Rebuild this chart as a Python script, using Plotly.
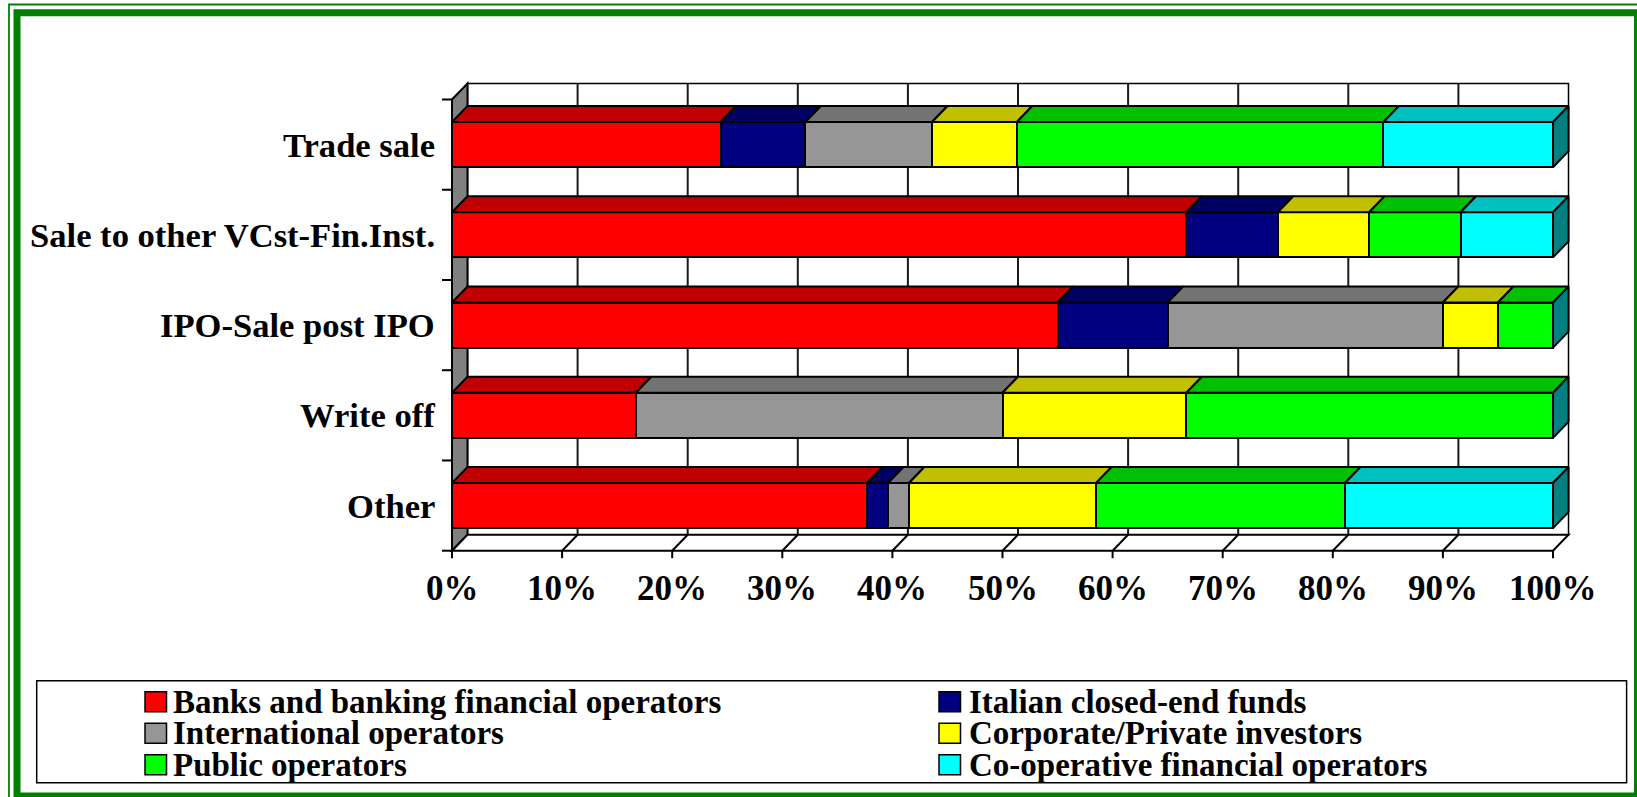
import plotly.graph_objects as go

# ---------------- data ----------------
categories = ["Trade sale", "Sale to other VCst-Fin.Inst.", "IPO-Sale post IPO", "Write off", "Other"]
series_names = ["Banks and banking financial operators", "Italian closed-end funds",
                "International operators", "Corporate/Private investors",
                "Public operators", "Co-operative financial operators"]
banks = [24.4, 66.7, 55.0, 16.7, 37.7]
italian_funds = [7.7, 8.3, 10.0, 0.0, 1.9]
international = [11.5, 0.0, 25.0, 33.3, 1.9]
corporate = [7.7, 8.3, 5.0, 16.7, 17.0]
public = [33.3, 8.3, 5.0, 33.3, 22.6]
cooperative = [15.4, 8.4, 0.0, 0.0, 18.9]
x_ticks = [0, 10, 20, 30, 40, 50, 60, 70, 80, 90, 100]
x_tick_labels = ["0%", "10%", "20%", "30%", "40%", "50%", "60%", "70%", "80%", "90%", "100%"]

series_values = [banks, italian_funds, international, corporate, public, cooperative]

# ---------------- styles ----------------
front_colors = ["#FF0000", "#000080", "#969696", "#FFFF00", "#00FF00", "#00FFFF"]
top_colors = ["#C00000", "#000060", "#737373", "#C0C000", "#00C000", "#00C0C0"]
side_color = "#008080"
frame_green = "#008000"
FONT = "Liberation Serif"

W, H = 1637, 797
X0_PX = 452.0          # pixel of 0% on the front plane
PX_PER_PCT = 11.01
Y0_PX = 550.7          # pixel of the floor front edge
PX_PER_CAT = 90.24
DX = 15.5 / PX_PER_PCT  # depth offset in x units
DY = 16.0 / PX_PER_CAT  # depth offset in y units
BAR_HALF = 0.25
N = len(categories)
ypos = [N - 0.5 - i for i in range(N)]

x_range = [-X0_PX / PX_PER_PCT, (W - X0_PX) / PX_PER_PCT]
y_range = [-(H - Y0_PX) / PX_PER_CAT, Y0_PX / PX_PER_CAT]


def px(xp):
    return xp / W


def py(yp):
    return 1 - yp / H


fig = go.Figure()

# front faces (stacked bars)
for name, vals, col in zip(series_names, series_values, front_colors):
    fig.add_trace(go.Bar(
        orientation="h", x=vals, y=ypos, width=2 * BAR_HALF, name=name,
        marker=dict(color=col, line=dict(color="black", width=2)),
        showlegend=False, hoverinfo="skip"))

# top faces
bases = [0.0] * N
for name, vals, col in zip(series_names, series_values, top_colors):
    xs, ys = [], []
    for r in range(N):
        b, v = bases[r], vals[r]
        if v > 0:
            yt = ypos[r] + BAR_HALF
            xs += [b, b + v, b + v + DX, b + DX, b, None]
            ys += [yt, yt, yt + DY, yt + DY, yt, None]
        bases[r] += v
    fig.add_trace(go.Scatter(x=xs, y=ys, mode="lines", fill="toself", fillcolor=col,
                             line=dict(color="black", width=2), showlegend=False,
                             hoverinfo="skip"))

# right end faces
xs, ys = [], []
for r in range(N):
    e = bases[r]
    y0, y1 = ypos[r] - BAR_HALF, ypos[r] + BAR_HALF
    xs += [e, e, e + DX, e + DX, e, None]
    ys += [y0, y1, y1 + DY, y0 + DY, y0, None]
fig.add_trace(go.Scatter(x=xs, y=ys, mode="lines", fill="toself", fillcolor=side_color,
                         line=dict(color="black", width=2), showlegend=False, hoverinfo="skip"))

shapes = []
# back wall
shapes.append(dict(type="rect", xref="x", yref="y", x0=DX, x1=100 + DX, y0=DY, y1=N + DY,
                   fillcolor="white", line=dict(color="black", width=1.5), layer="below"))
for t in x_ticks[1:-1]:
    shapes.append(dict(type="line", xref="x", yref="y", x0=t + DX, x1=t + DX, y0=DY, y1=N + DY,
                       line=dict(color="#1a1a1a", width=2), layer="below"))
# left wall
shapes.append(dict(type="path", xref="x", yref="y",
                   path=f"M 0,0 L {DX},{DY} L {DX},{N + DY} L 0,{N} Z",
                   fillcolor="#808080", line=dict(color="black", width=2), layer="below"))
# floor
shapes.append(dict(type="path", xref="x", yref="y",
                   path=f"M 0,0 L 100,0 L {100 + DX},{DY} L {DX},{DY} Z",
                   fillcolor="white", line=dict(color="black", width=2), layer="below"))
for t in x_ticks[1:-1]:
    shapes.append(dict(type="line", xref="x", yref="y", x0=t, x1=t + DX, y0=0, y1=DY,
                       line=dict(color="black", width=2), layer="below"))
# x ticks below the floor
tick_dy = 7.5 / PX_PER_CAT
for t in x_ticks:
    shapes.append(dict(type="line", xref="x", yref="y", x0=t, x1=t, y0=0, y1=-tick_dy,
                       line=dict(color="black", width=2)))
# category ticks on the left
tick_dx = 10.0 / PX_PER_PCT
for k in range(N + 1):
    shapes.append(dict(type="line", xref="x", yref="y", x0=-tick_dx, x1=0, y0=k, y1=k,
                       line=dict(color="black", width=2)))

# frame
shapes.append(dict(type="rect", xref="paper", yref="paper", x0=px(9), x1=px(1650), y0=py(820), y1=py(4.5),
                   line=dict(color=frame_green, width=1.8), fillcolor="rgba(0,0,0,0)"))
shapes.append(dict(type="rect", xref="paper", yref="paper", x0=px(17), x1=px(1637.5), y0=py(796), y1=py(12.8),
                   line=dict(color=frame_green, width=7), fillcolor="rgba(0,0,0,0)"))

# legend box
shapes.append(dict(type="rect", xref="paper", yref="paper", x0=px(36.7), x1=px(1626.6),
                   y0=py(782.7), y1=py(680.7), line=dict(color="black", width=1.5),
                   fillcolor="rgba(0,0,0,0)"))

annotations = []
# legend entries
col_swatch_x = [145.0, 939.0]
col_text_x = [171.0, 967.0]
row_y = [701.8, 733.3, 764.8]
for i, (name, col) in enumerate(zip(series_names, front_colors)):
    c, r = i % 2, i // 2
    sx, cy = col_swatch_x[c], row_y[r]
    shapes.append(dict(type="rect", xref="paper", yref="paper", x0=px(sx), x1=px(sx + 21.5),
                       y0=py(cy + 10), y1=py(cy - 10), fillcolor=col,
                       line=dict(color="black", width=1.5)))
    annotations.append(dict(text=name, xref="paper", yref="paper", x=px(col_text_x[c]), y=py(cy),
                            xanchor="left", yanchor="middle", showarrow=False,
                            font=dict(family=FONT, size=33, color="black", weight="bold")))

# category labels
for cat, yc in zip(categories, ypos):
    annotations.append(dict(text=cat, xref="paper", yref="y", x=px(437), y=yc,
                            xanchor="right", yanchor="middle", showarrow=False,
                            font=dict(family=FONT, size=34.6, color="black", weight="bold")))

# x tick labels
for t, lab in zip(x_ticks, x_tick_labels):
    annotations.append(dict(text=lab, xref="x", yref="paper", x=t, y=py(588),
                            xanchor="center", yanchor="middle", showarrow=False,
                            font=dict(family=FONT, size=35, color="black", weight="bold")))

fig.update_layout(
    width=W, height=H, margin=dict(l=0, r=0, t=0, b=0, pad=0),
    paper_bgcolor="white", plot_bgcolor="white",
    barmode="stack", bargap=0,
    xaxis=dict(range=x_range, domain=[0, 1], visible=False, fixedrange=True),
    yaxis=dict(range=y_range, domain=[0, 1], visible=False, fixedrange=True),
    shapes=shapes, annotations=annotations, showlegend=False,
)

fig.write_html("out.html", config={"displayModeBar": False},
               post_script="document.body.style.margin='0';document.body.style.overflow='hidden';")
